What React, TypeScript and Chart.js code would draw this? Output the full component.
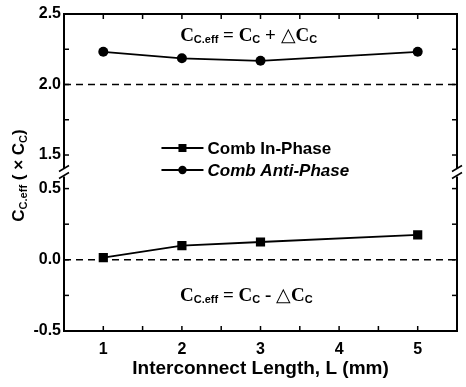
import React, { useEffect, useRef } from 'react';
import { Chart, registerables } from 'chart.js';

Chart.register(...registerables);

// ---- data ----
const lengths = [1, 2, 3, 5];
const inPhase = [0.015, 0.1, 0.125, 0.175];
const antiPhase = [2.232, 2.186, 2.168, 2.232];
const seriesLabels = ['Comb In-Phase', 'Comb Anti-Phase'];
const xTickValues = [0.5, 1, 1.5, 2, 2.5, 3, 3.5, 4, 4.5, 5, 5.5];
const upperTickValues = [1.5, 1.75, 2.0, 2.25, 2.5];
const lowerTickValues = [-0.5, -0.25, 0.0, 0.25, 0.5];
const xRange = [0.5, 5.5];
const upperRange = [1.376, 2.5];
const lowerRange = [-0.5, 0.613];
const upperRef = 2.0;
const lowerRef = 0.0;

const SANS = '"Liberation Sans", Arial, Helvetica, sans-serif';
const SERIF = '"Liberation Serif", "Times New Roman", serif';

type Seg = { t: string; font: string; dy: number };

function drawSegs(ctx: CanvasRenderingContext2D, segs: Seg[], cx: number, y: number) {
  let total = 0;
  for (const s of segs) {
    ctx.font = s.font;
    total += ctx.measureText(s.t).width;
  }
  let x = cx - total / 2;
  ctx.textAlign = 'left';
  ctx.textBaseline = 'alphabetic';
  for (const s of segs) {
    ctx.font = s.font;
    ctx.fillText(s.t, x, y + s.dy);
    x += ctx.measureText(s.t).width;
  }
}

const decorPlugin = {
  id: 'decor',
  afterDraw(chart: any) {
    const { ctx, chartArea: a } = chart;
    const xs = chart.scales.x;
    const yl = chart.scales.yLow;
    const yu = chart.scales.yUp;
    const line = (x1: number, y1: number, x2: number, y2: number) => {
      ctx.beginPath();
      ctx.moveTo(x1, y1);
      ctx.lineTo(x2, y2);
      ctx.stroke();
    };
    ctx.save();
    ctx.strokeStyle = '#000';
    ctx.fillStyle = '#000';
    ctx.lineWidth = 2;
    ctx.strokeRect(a.left, a.top, a.right - a.left, a.bottom - a.top);

    ctx.lineWidth = 1.5;
    for (const s of [yl, yu]) {
      for (const t of s.ticks) {
        const y = s.getPixelForValue(t.value);
        line(a.left, y, a.left + 5, y);
        line(a.right, y, a.right - 5, y);
      }
    }
    for (const t of xs.ticks) {
      const x = xs.getPixelForValue(t.value);
      line(x, a.top, x, a.top + 5);
      line(x, a.bottom, x, a.bottom - 5);
    }

    // axis break marks
    const yb = yu.bottom;
    for (const xb of [a.left, a.right]) {
      ctx.fillStyle = '#fff';
      ctx.fillRect(xb - 2, yb - 4, 4, 8);
      ctx.strokeStyle = '#000';
      ctx.lineWidth = 1.5;
      line(xb - 5, yb - 1, xb + 5, yb - 7);
      line(xb - 5, yb + 6, xb + 5, yb);
    }

    ctx.fillStyle = '#000';
    // annotations
    const big = `bold 19px ${SERIF}`;
    const sub = `bold 11px ${SANS}`;
    const tri = `19px ${SANS}`;
    drawSegs(ctx, [
      { t: 'C', font: big, dy: 0 },
      { t: 'C.eff', font: sub, dy: 2 },
      { t: ' = C', font: big, dy: 0 },
      { t: 'C', font: sub, dy: 2 },
      { t: ' + ', font: big, dy: 0 },
      { t: '\u25B3', font: tri, dy: 0 },
      { t: 'C', font: big, dy: 0 },
      { t: 'C', font: sub, dy: 2 },
    ], xs.getPixelForValue(2.85), yu.getPixelForValue(2.31));
    drawSegs(ctx, [
      { t: 'C', font: big, dy: 0 },
      { t: 'C.eff', font: sub, dy: 2 },
      { t: ' = C', font: big, dy: 0 },
      { t: 'C', font: sub, dy: 2 },
      { t: ' - ', font: big, dy: 0 },
      { t: '\u25B3', font: tri, dy: 0 },
      { t: 'C', font: big, dy: 0 },
      { t: 'C', font: sub, dy: 2 },
    ], xs.getPixelForValue(2.82), yl.getPixelForValue(-0.287));

    // legend
    const lx = xs.getPixelForValue(1.74);
    const legY = [yu.getPixelForValue(1.5) - 7, yu.getPixelForValue(1.5) + 15];
    chart.data.datasets.slice(0, 2).forEach((ds: any, i: number) => {
      const y = legY[i];
      ctx.strokeStyle = '#000';
      ctx.lineWidth = 1.8;
      line(lx, y, lx + 42, y);
      ctx.fillStyle = '#000';
      if (i === 0) {
        ctx.fillRect(lx + 21 - 4, y - 4, 8, 8);
      } else {
        ctx.beginPath();
        ctx.arc(lx + 21, y, 4.2, 0, Math.PI * 2);
        ctx.fill();
      }
      ctx.font = (i === 1 ? 'italic ' : '') + `bold 17px ${SANS}`;
      ctx.textAlign = 'left';
      ctx.textBaseline = 'middle';
      ctx.fillText(ds.label, lx + 46, y + 1);
    });

    // y title (rotated)
    ctx.save();
    ctx.translate(18, (a.top + a.bottom) / 2 + 3);
    ctx.rotate(-Math.PI / 2);
    const tb = `bold 17px ${SANS}`;
    const ts = `bold 11px ${SANS}`;
    drawSegs(ctx, [
      { t: 'C', font: tb, dy: 0 },
      { t: 'C.eff', font: ts, dy: 3 },
      { t: ' ( \u00D7 C', font: tb, dy: 0 },
      { t: 'C', font: ts, dy: 3 },
      { t: ')', font: tb, dy: 0 },
    ], 0, 6);
    ctx.restore();

    ctx.restore();
  },
};

export default function App() {
  const ref = useRef<HTMLCanvasElement | null>(null);
  useEffect(() => {
    if (!ref.current) return;
    const fmt = (v: number) => (Math.abs((v * 2) % 1) < 1e-9 ? v.toFixed(1) : '');
    const chart = new Chart(ref.current, {
      type: 'line',
      data: {
        datasets: [
          {
            label: seriesLabels[0],
            data: lengths.map((x, i) => ({ x, y: inPhase[i] })),
            yAxisID: 'yLow',
            borderColor: '#000',
            backgroundColor: '#000',
            borderWidth: 1.8,
            pointStyle: 'rect',
            pointRadius: 6.5,
            pointBorderWidth: 0,
            tension: 0,
          },
          {
            label: seriesLabels[1],
            data: lengths.map((x, i) => ({ x, y: antiPhase[i] })),
            yAxisID: 'yUp',
            borderColor: '#000',
            backgroundColor: '#000',
            borderWidth: 1.8,
            pointStyle: 'circle',
            pointRadius: 5,
            pointBorderWidth: 0,
            tension: 0,
          },
          {
            label: 'ref-upper',
            data: xRange.map((x) => ({ x, y: upperRef })),
            yAxisID: 'yUp',
            borderColor: '#000',
            borderWidth: 1.5,
            borderDash: [7, 5],
            pointRadius: 0,
          },
          {
            label: 'ref-lower',
            data: xRange.map((x) => ({ x, y: lowerRef })),
            yAxisID: 'yLow',
            borderColor: '#000',
            borderWidth: 1.5,
            borderDash: [7, 5],
            pointRadius: 0,
          },
        ],
      },
      options: {
        responsive: false,
        animation: false,
        layout: { padding: { top: 14, right: 3, left: 0, bottom: 0 } },
        plugins: { legend: { display: false }, tooltip: { enabled: false } },
        scales: {
          x: {
            type: 'linear',
            min: xRange[0],
            max: xRange[1],
            afterBuildTicks: (s: any) => { s.ticks = xTickValues.map((value) => ({ value })); },
            afterFit: (s: any) => { s.height = 56; },
            grid: { display: false, drawTicks: false, tickLength: 0 },
            border: { display: false },
            ticks: {
              autoSkip: false,
              maxRotation: 0,
              padding: 9,
              color: '#000',
              font: { family: SANS, size: 16, weight: 'bold' },
              callback: (v: any) => (Number.isInteger(v) ? String(v) : ''),
            },
            title: {
              display: true,
              text: 'Interconnect Length, L (mm)',
              color: '#000',
              font: { family: SANS, size: 19, weight: 'bold' },
              padding: { top: 0, bottom: 7 },
            },
          },
          yLow: {
            type: 'linear',
            position: 'left',
            stack: 'y',
            stackWeight: 1,
            min: lowerRange[0],
            max: lowerRange[1],
            afterBuildTicks: (s: any) => { s.ticks = lowerTickValues.map((value) => ({ value })); },
            afterFit: (s: any) => { s.width = 64; },
            grid: { display: false, drawTicks: false, tickLength: 0 },
            border: { display: false },
            ticks: {
              autoSkip: false,
              padding: 3,
              color: '#000',
              font: { family: SANS, size: 16, weight: 'bold' },
              callback: (v: any) => fmt(v),
            },
          },
          yUp: {
            type: 'linear',
            position: 'left',
            stack: 'y',
            stackWeight: 1,
            min: upperRange[0],
            max: upperRange[1],
            afterBuildTicks: (s: any) => { s.ticks = upperTickValues.map((value) => ({ value })); },
            afterFit: (s: any) => { s.width = 64; },
            grid: { display: false, drawTicks: false, tickLength: 0 },
            border: { display: false },
            ticks: {
              autoSkip: false,
              padding: 3,
              color: '#000',
              font: { family: SANS, size: 16, weight: 'bold' },
              callback: (v: any) => fmt(v),
            },
          },
        },
      },
      plugins: [decorPlugin],
    } as any);
    return () => chart.destroy();
  }, []);
  return (
    <div style={{ position: 'fixed', left: 0, top: 0, width: 466, height: 387, background: '#fff' }}>
      <canvas ref={ref} width={466} height={387} style={{ display: 'block' }} />
    </div>
  );
}
